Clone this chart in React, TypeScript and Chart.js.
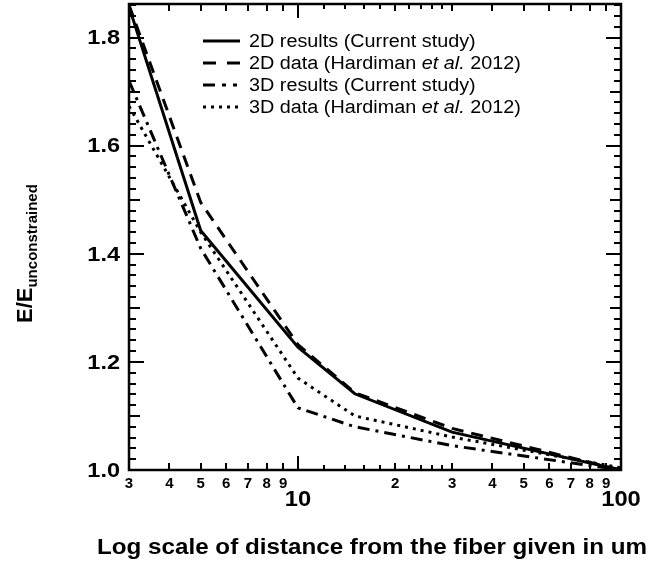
import React, { useEffect, useRef } from 'react';
import { Chart, registerables } from 'chart.js';

Chart.register(...registerables);

// ---- data ----
const distances = [3, 5, 10, 15, 30, 100];
const results2D = [1.857, 1.443, 1.227, 1.141, 1.07, 1.0];
const data2D = [1.86, 1.495, 1.232, 1.143, 1.077, 1.0];
const results3D = [1.72, 1.41, 1.115, 1.08, 1.045, 1.0];
const data3D = [1.673, 1.44, 1.17, 1.1, 1.061, 1.004];

const seriesNames = [
  ['2D results (Current study)'],
  ['2D data (Hardiman ', 'et al.', ' 2012)'],
  ['3D results (Current study)'],
  ['3D data (Hardiman ', 'et al.', ' 2012)'],
];
const seriesDashes: number[][] = [[], [12, 8], [12, 6, 3, 6], [3, 5]];
const legendDashes: number[][] = [[], [13, 11], [12, 7, 4, 7, 4, 20], [3, 5]];

const yMin = 1.0;
const yMax = 1.862;
const xMin = 3;
const xMax = 100;

const yTickValues = [1.0, 1.2, 1.4, 1.6, 1.8];
const yTickLabels = ['1.0', '1.2', '1.4', '1.6', '1.8'];
const xDigitTicks = [3, 4, 5, 6, 7, 8, 9, 20, 30, 40, 50, 60, 70, 80, 90];
const xDigitLabels = ['3', '4', '5', '6', '7', '8', '9', '2', '3', '4', '5', '6', '7', '8', '9'];
const xDecadeTicks = [10, 100];
const xDecadeLabels = ['10', '100'];
const xSubTicks = [12, 14, 16, 18, 22, 24, 26, 28];

const xTitle = 'Log scale of distance from the fiber given in um';
const yTitleMain = 'E/E';
const yTitleSub = 'unconstrained';

const FONT = '"Liberation Sans", Arial, Helvetica, sans-serif';

function drawText(
  ctx: CanvasRenderingContext2D,
  text: string,
  x: number,
  y: number,
  font: string,
  align: 'left' | 'center' | 'right',
  sx = 1,
  baseline: CanvasTextBaseline = 'middle'
) {
  ctx.save();
  ctx.font = font;
  ctx.textBaseline = baseline;
  ctx.textAlign = 'left';
  const w = ctx.measureText(text).width * sx;
  const left = align === 'left' ? x : align === 'center' ? x - w / 2 : x - w;
  ctx.translate(left, y);
  ctx.scale(sx, 1);
  ctx.fillText(text, 0, 0);
  ctx.restore();
  return w;
}

const axesPlugin = {
  id: 'customAxes',
  afterDraw(chart: any) {
    const ctx: CanvasRenderingContext2D = chart.ctx;
    const { left, right, top, bottom } = chart.chartArea;
    const xs = chart.scales.x;
    const ys = chart.scales.y;
    ctx.save();
    ctx.strokeStyle = '#000';
    ctx.fillStyle = '#000';
    ctx.lineCap = 'butt';

    // y ticks (left + mirrored right)
    ctx.lineWidth = 2;
    for (let k = 0; k <= 43; k++) {
      const v = yMin + k * 0.02;
      if (v > yMax + 1e-9) break;
      const p = Math.round(ys.getPixelForValue(v));
      const len = k % 10 === 0 ? 15 : k % 5 === 0 ? 11 : 7;
      ctx.beginPath();
      ctx.moveTo(left, p);
      ctx.lineTo(left + len, p);
      ctx.moveTo(right, p);
      ctx.lineTo(right - len, p);
      ctx.stroke();
    }

    // x ticks (bottom + mirrored top)
    const xTick = (v: number, len: number) => {
      const p = Math.round(xs.getPixelForValue(v));
      ctx.beginPath();
      ctx.moveTo(p, bottom);
      ctx.lineTo(p, bottom - len);
      ctx.moveTo(p, top);
      ctx.lineTo(p, top + len);
      ctx.stroke();
    };
    xDigitTicks.forEach((v) => xTick(v, 7));
    xSubTicks.forEach((v) => xTick(v, 5));
    xDecadeTicks.forEach((v) => xTick(v, 14));

    // frame
    ctx.lineWidth = 2.5;
    ctx.strokeRect(left, top, right - left, bottom - top);

    // y tick labels
    yTickValues.forEach((v, i) => {
      drawText(ctx, yTickLabels[i], left - 9, ys.getPixelForValue(v) + 1, `bold 21px ${FONT}`, 'right', 1.12);
    });

    // x tick labels
    xDigitTicks.forEach((v, i) => {
      drawText(ctx, xDigitLabels[i], xs.getPixelForValue(v), bottom + 14, `bold 15px ${FONT}`, 'center', 1.0);
    });
    xDecadeTicks.forEach((v, i) => {
      drawText(ctx, xDecadeLabels[i], xs.getPixelForValue(v), bottom + 30, `bold 22px ${FONT}`, 'center', 1.08);
    });

    // x title
    drawText(ctx, xTitle, (left + right) / 2 - 3, 548, `bold 22px ${FONT}`, 'center', 1.1);

    // y title (rotated, with subscript)
    ctx.save();
    ctx.translate(32, 323);
    ctx.rotate(-Math.PI / 2);
    const w1 = drawText(ctx, yTitleMain, 0, 0, `bold 22px ${FONT}`, 'left', 1.0, 'alphabetic');
    drawText(ctx, yTitleSub, w1, 5, `bold 15px ${FONT}`, 'left', 1.0, 'alphabetic');
    ctx.restore();

    // legend
    const legX0 = 203;
    const legX1 = 240;
    const textX = 249;
    const rowY0 = 41;
    const rowGap = 22;
    seriesNames.forEach((parts, i) => {
      const yy = rowY0 + i * rowGap;
      ctx.save();
      ctx.lineWidth = 3;
      ctx.setLineDash(legendDashes[i]);
      ctx.beginPath();
      ctx.moveTo(legX0, yy);
      ctx.lineTo(legX1, yy);
      ctx.stroke();
      ctx.restore();
      let xx = textX;
      parts.forEach((part) => {
        const italic = part === 'et al.';
        xx += drawText(ctx, part, xx, yy + 1, `${italic ? 'italic ' : ''}18px ${FONT}`, 'left', 1.1);
      });
    });

    ctx.restore();
  },
};

export default function App() {
  const canvasRef = useRef<HTMLCanvasElement | null>(null);

  useEffect(() => {
    const canvas = canvasRef.current;
    if (!canvas) return;
    const mk = (vals: number[], dash: number[], label: string) => ({
      label,
      data: distances.map((d, i) => ({ x: d, y: vals[i] })),
      borderColor: '#000',
      backgroundColor: '#000',
      borderWidth: 3,
      borderDash: dash,
      borderCapStyle: 'butt' as const,
      pointRadius: 0,
      tension: 0,
      fill: false,
    });
    const chart = new Chart(canvas, {
      type: 'line',
      data: {
        datasets: [
          mk(results2D, seriesDashes[0], seriesNames[0].join('')),
          mk(data2D, seriesDashes[1], seriesNames[1].join('')),
          mk(results3D, seriesDashes[2], seriesNames[2].join('')),
          mk(data3D, seriesDashes[3], seriesNames[3].join('')),
        ],
      },
      options: {
        animation: false,
        responsive: false,
        maintainAspectRatio: false,
        devicePixelRatio: 1,
        layout: { padding: { left: 129, right: 36, top: 4, bottom: 95 } },
        plugins: { legend: { display: false }, tooltip: { enabled: false }, title: { display: false } },
        scales: {
          x: { type: 'logarithmic', min: xMin, max: xMax, display: false },
          y: { type: 'linear', min: yMin, max: yMax, display: false },
        },
      },
      plugins: [axesPlugin],
    });
    return () => chart.destroy();
  }, []);

  return (
    <div style={{ position: 'fixed', left: 0, top: 0, width: 657, height: 565, background: '#fff' }}>
      <canvas ref={canvasRef} width={657} height={565} style={{ display: 'block' }} />
    </div>
  );
}
